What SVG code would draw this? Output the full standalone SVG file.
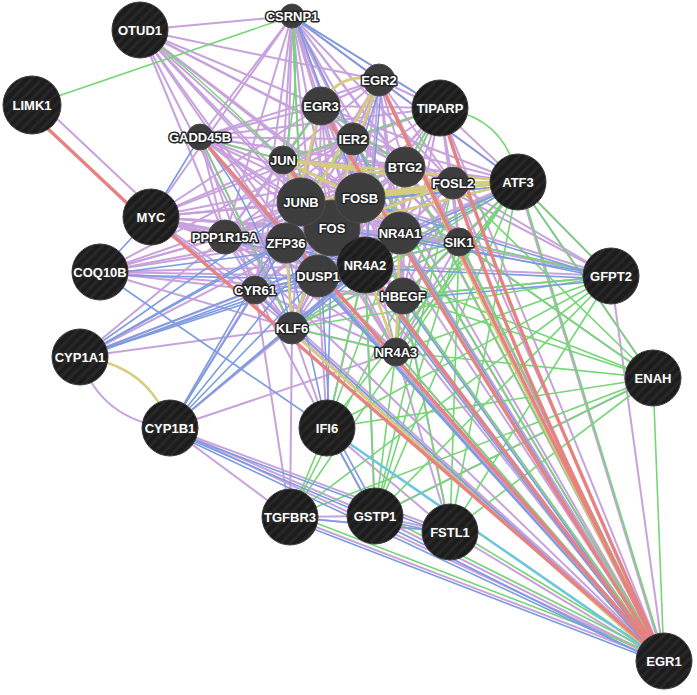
<svg xmlns="http://www.w3.org/2000/svg" width="697" height="695" viewBox="0 0 697 695">
<style>
.e path{fill:none;stroke-linecap:round}
.co path{stroke:#c8a2dc;stroke-width:2}
.gi path{stroke:#74d674;stroke-width:1.6}
.cl path{stroke:#7c9ce0;stroke-width:1.6}
.sd path{stroke:#d6cc7c;stroke-width:2.6}
.pi path{stroke:#e68282;stroke-width:3.4}
.pw path{stroke:#6cc6da;stroke-width:2.6}
.q{fill:url(#st);stroke:#3a3a3a;stroke-width:1}
.r{fill:#3d3d3d;stroke:#4c4c4c;stroke-width:1}
text{font-family:"Liberation Sans",Arial,sans-serif;font-weight:bold;font-size:13px;fill:#fff;stroke:#262626;stroke-width:3;stroke-linejoin:round;paint-order:stroke;text-anchor:middle}
</style>
<defs>
<pattern id="st" width="7" height="7" patternUnits="userSpaceOnUse" patternTransform="rotate(45)"><rect width="7" height="7" fill="#1c1c1c"/><rect width="3" height="7" fill="#272727"/></pattern>
</defs>
<rect width="697" height="695" fill="#fff"/>
<g id="edges" class="e">
<g class="co">
<path d="M140 30L292 16"/><path d="M140 30L321 106"/><path d="M140 30L379 80"/><path d="M140 30L353 139"/><path d="M140 30L283 160"/><path d="M140 30L301 202"/><path d="M140 30L360 198"/><path d="M140 30L332 228"/><path d="M140 30L405 167"/><path d="M140 30L286 243"/><path d="M140 30L318 276"/><path d="M140 30L400 233"/><path d="M140 30L225 237"/><path d="M140 30L292 328"/>
<path d="M292 16L321 106"/><path d="M292 16L379 80"/><path d="M292 16L353 139"/><path d="M292 16L283 160"/><path d="M292 16L301 202"/><path d="M292 16L360 198"/><path d="M292 16L332 228"/><path d="M292 16L405 167"/><path d="M292 16L440 108"/><path d="M292 16L518 182"/><path d="M292 16L453 183"/><path d="M292 16L400 233"/><path d="M292 16L365 265"/><path d="M292 16L200 137"/><path d="M292 16L151 217"/><path d="M292 16L225 237"/><path d="M292 16L286 243"/><path d="M292 16L318 276"/><path d="M292 16L459 242"/><path d="M292 16L403 296"/><path d="M292 16L255 290"/>
<path d="M37 100L156 212"/>
<path d="M200 137L283 160"/><path d="M200 137L301 202"/><path d="M200 137L332 228"/><path d="M200 137L360 198"/><path d="M200 137L353 139"/><path d="M200 137L321 106"/><path d="M200 137L379 80"/><path d="M200 137L405 167"/><path d="M200 137L286 243"/><path d="M200 137L318 276"/><path d="M200 137L400 233"/><path d="M200 137L365 265"/><path d="M200 137L225 237"/><path d="M200 137L518 182"/><path d="M200 137L440 108"/><path d="M200 137L255 290"/><path d="M200 137L292 328"/>
<path d="M151 217L301 202"/><path d="M151 217L332 228"/><path d="M151 217L360 198"/><path d="M151 217L286 243"/><path d="M151 217L225 237"/><path d="M151 217L283 160"/><path d="M151 217L353 139"/><path d="M151 217L321 106"/><path d="M151 217L400 233"/><path d="M151 217L365 265"/><path d="M151 217L318 276"/><path d="M151 217L459 242"/><path d="M151 217L518 182"/><path d="M151 217L405 167"/><path d="M151 217L255 290"/><path d="M151 217L292 328"/><path d="M151 217L403 296"/>
<path d="M100 272L301 202"/><path d="M100 272L332 228"/><path d="M100 272L286 243"/><path d="M100 272L318 276"/><path d="M100 272L365 265"/><path d="M100 272L360 198"/><path d="M100 272L225 237"/><path d="M100 272L255 290"/><path d="M100 272L292 328"/><path d="M100 272L353 139"/><path d="M100 272L403 296"/>
<path d="M80 357L255 290"/><path d="M80 357L225 237"/><path d="M80 357L292 328"/><path d="M80 357L332 228"/><path d="M80 357Q100 420 170 428"/>
<path d="M170 428L292 328"/><path d="M170 428L255 290"/><path d="M170 428L396 352"/><path d="M170 428L375 516"/><path d="M170 428L450 532"/><path d="M170 428L664 661"/><path d="M170 428L290 517"/>
<path d="M327 428L292 328"/><path d="M327 428L255 290"/><path d="M327 428L318 276"/><path d="M327 428L375 516"/><path d="M327 428L450 532"/><path d="M327 428L365 265"/>
<path d="M290 517L664 661"/><path d="M290 517L255 290"/><path d="M290 517L375 516"/><path d="M290 517L450 532"/><path d="M290 517L292 328"/>
<path d="M375 516L450 532"/><path d="M375 516L664 661"/><path d="M375 516L365 265"/>
<path d="M450 532L664 661"/><path d="M450 532L396 352"/><path d="M450 532L403 296"/>
<path d="M664 661L301 202"/><path d="M664 661L332 228"/><path d="M664 661L360 198"/><path d="M664 661L400 233"/><path d="M664 661L365 265"/><path d="M664 661L318 276"/><path d="M664 661L353 139"/><path d="M664 661L379 80"/><path d="M664 661L321 106"/><path d="M664 661L405 167"/><path d="M664 661L518 182"/><path d="M664 661L286 243"/><path d="M664 661L292 328"/><path d="M664 661L255 290"/><path d="M664 661L403 296"/><path d="M664 661L396 352"/><path d="M664 661L459 242"/><path d="M664 661L453 183"/><path d="M664 661L283 160"/><path d="M664 661L225 237"/><path d="M664 661L440 108"/><path d="M664 661L611 276"/><path d="M664 661L292 16"/>
<path d="M653 378L518 182"/><path d="M653 378L459 242"/><path d="M653 378L375 516"/>
<path d="M611 276L518 182"/><path d="M611 276L453 183"/><path d="M611 276L459 242"/><path d="M611 276L400 233"/><path d="M611 276L403 296"/><path d="M611 276L405 167"/><path d="M611 276L365 265"/><path d="M611 276L360 198"/>
<path d="M518 182L440 108"/><path d="M518 182L453 183"/><path d="M518 182L405 167"/><path d="M518 182L400 233"/><path d="M518 182L365 265"/><path d="M518 182L360 198"/><path d="M518 182L332 228"/><path d="M518 182L301 202"/><path d="M518 182L459 242"/><path d="M518 182L403 296"/><path d="M518 182L379 80"/><path d="M518 182L353 139"/><path d="M518 182L396 352"/><path d="M518 182L318 276"/><path d="M518 182L321 106"/>
<path d="M440 108L379 80"/><path d="M440 108L321 106"/><path d="M440 108L353 139"/><path d="M440 108L405 167"/><path d="M440 108L360 198"/><path d="M440 108L332 228"/><path d="M440 108L301 202"/><path d="M440 108L400 233"/><path d="M440 108L365 265"/><path d="M440 108L459 242"/><path d="M440 108L453 183"/><path d="M440 108L403 296"/><path d="M440 108L283 160"/><path d="M440 108L318 276"/>
<path d="M379 80L321 106"/><path d="M379 80L353 139"/><path d="M379 80L283 160"/><path d="M379 80L405 167"/><path d="M379 80L453 183"/><path d="M379 80L301 202"/><path d="M379 80L360 198"/><path d="M379 80L332 228"/><path d="M379 80L400 233"/><path d="M379 80L365 265"/><path d="M379 80L286 243"/><path d="M379 80L459 242"/><path d="M379 80L318 276"/><path d="M379 80L403 296"/>
<path d="M321 106L353 139"/><path d="M321 106L283 160"/><path d="M321 106L405 167"/><path d="M321 106L301 202"/><path d="M321 106L360 198"/><path d="M321 106L332 228"/><path d="M321 106L400 233"/><path d="M321 106L365 265"/><path d="M321 106L286 243"/><path d="M321 106L225 237"/><path d="M321 106L318 276"/><path d="M321 106L403 296"/><path d="M321 106L453 183"/><path d="M321 106L459 242"/>
<path d="M353 139L283 160"/><path d="M353 139L405 167"/><path d="M353 139L453 183"/><path d="M353 139L301 202"/><path d="M353 139L360 198"/><path d="M353 139L332 228"/><path d="M353 139L400 233"/><path d="M353 139L365 265"/><path d="M353 139L286 243"/><path d="M353 139L225 237"/><path d="M353 139L318 276"/><path d="M353 139L403 296"/><path d="M353 139L459 242"/><path d="M353 139L255 290"/><path d="M353 139L292 328"/>
<path d="M283 160L405 167"/><path d="M283 160L453 183"/><path d="M283 160L301 202"/><path d="M283 160L360 198"/><path d="M283 160L332 228"/><path d="M283 160L400 233"/><path d="M283 160L365 265"/><path d="M283 160L286 243"/><path d="M283 160L225 237"/><path d="M283 160L318 276"/><path d="M283 160L403 296"/><path d="M283 160L459 242"/><path d="M283 160L255 290"/><path d="M283 160L292 328"/><path d="M283 160L396 352"/>
<path d="M405 167L453 183"/><path d="M405 167L301 202"/><path d="M405 167L360 198"/><path d="M405 167L332 228"/><path d="M405 167L400 233"/><path d="M405 167L365 265"/><path d="M405 167L286 243"/><path d="M405 167L225 237"/><path d="M405 167L318 276"/><path d="M405 167L403 296"/><path d="M405 167L459 242"/><path d="M405 167L255 290"/><path d="M405 167L292 328"/><path d="M405 167L396 352"/>
<path d="M453 183L301 202"/><path d="M453 183L360 198"/><path d="M453 183L332 228"/><path d="M453 183L400 233"/><path d="M453 183L365 265"/><path d="M453 183L459 242"/><path d="M453 183L403 296"/><path d="M453 183L318 276"/><path d="M453 183L286 243"/><path d="M453 183L396 352"/>
<path d="M301 202L360 198"/><path d="M301 202L332 228"/><path d="M301 202L400 233"/><path d="M301 202L365 265"/><path d="M301 202L286 243"/><path d="M301 202L225 237"/><path d="M301 202L318 276"/><path d="M301 202L403 296"/><path d="M301 202L459 242"/><path d="M301 202L255 290"/><path d="M301 202L292 328"/><path d="M301 202L396 352"/>
<path d="M360 198L332 228"/><path d="M360 198L400 233"/><path d="M360 198L365 265"/><path d="M360 198L286 243"/><path d="M360 198L225 237"/><path d="M360 198L318 276"/><path d="M360 198L403 296"/><path d="M360 198L459 242"/><path d="M360 198L255 290"/><path d="M360 198L292 328"/><path d="M360 198L396 352"/>
<path d="M332 228L400 233"/><path d="M332 228L365 265"/><path d="M332 228L286 243"/><path d="M332 228L225 237"/><path d="M332 228L318 276"/><path d="M332 228L403 296"/><path d="M332 228L459 242"/><path d="M332 228L255 290"/><path d="M332 228L292 328"/><path d="M332 228L396 352"/>
<path d="M400 233L365 265"/><path d="M400 233L286 243"/><path d="M400 233L225 237"/><path d="M400 233L318 276"/><path d="M400 233L403 296"/><path d="M400 233L459 242"/><path d="M400 233L255 290"/><path d="M400 233L292 328"/><path d="M400 233L396 352"/>
<path d="M365 265L286 243"/><path d="M365 265L225 237"/><path d="M365 265L318 276"/><path d="M365 265L403 296"/><path d="M365 265L459 242"/><path d="M365 265L255 290"/><path d="M365 265L292 328"/><path d="M365 265L396 352"/>
<path d="M286 243L225 237"/><path d="M286 243L318 276"/><path d="M286 243L403 296"/><path d="M286 243L459 242"/><path d="M286 243L255 290"/><path d="M286 243L292 328"/><path d="M286 243L396 352"/>
<path d="M225 237L318 276"/><path d="M225 237L403 296"/><path d="M225 237L459 242"/><path d="M225 237L255 290"/><path d="M225 237L292 328"/><path d="M225 237L396 352"/>
<path d="M459 242L318 276"/><path d="M459 242L403 296"/><path d="M459 242L396 352"/><path d="M459 242L292 328"/>
<path d="M318 276L403 296"/><path d="M318 276L255 290"/><path d="M318 276L292 328"/><path d="M318 276L396 352"/>
<path d="M403 296L255 290"/><path d="M403 296L292 328"/><path d="M403 296L396 352"/>
<path d="M255 290L292 328"/><path d="M255 290L396 352"/><path d="M292 328L396 352"/>
</g>
<g class="gi">
<path d="M32 105L292 16"/><path d="M140 30Q215 90 283 160"/><path d="M292 16L301 202"/><path d="M292 16Q302 90 283 160"/><path d="M200 137L283 160"/><path d="M200 137L292 328"/><path d="M283 160L440 108"/><path d="M321 106L405 167"/><path d="M321 106L283 160"/><path d="M353 139L301 202"/>
<path d="M440 108Q507 116 518 182"/><path d="M440 108L405 167"/><path d="M440 108L365 265"/>
<path d="M518 182L653 378"/><path d="M518 182L611 276"/><path d="M518 182L365 265"/><path d="M518 182L403 296"/><path d="M518 182L396 352"/><path d="M518 182L292 328"/><path d="M518 182L375 516"/><path d="M518 182L450 532"/><path d="M518 182L290 517"/><path d="M520 184L666 663"/><path d="M518 182L327 428"/>
<path d="M611 276L459 242"/><path d="M611 276L403 296"/><path d="M611 276L396 352"/><path d="M611 276L292 328"/><path d="M611 276L375 516"/><path d="M611 276L450 532"/><path d="M611 276L290 517"/><path d="M611 276L327 428"/>
<path d="M653 378L459 242"/><path d="M653 378L403 296"/><path d="M653 378L365 265"/><path d="M653 378L453 183"/><path d="M653 378L664 661"/><path d="M653 378L375 516"/><path d="M653 378L450 532"/><path d="M653 378L290 517"/><path d="M653 378L327 428"/><path d="M653 378L396 352"/>
<path d="M375 516L365 265"/><path d="M375 516L403 296"/><path d="M375 516L459 242"/><path d="M375 516L453 183"/><path d="M375 512L664 657"/>
<path d="M290 517L327 428"/><path d="M290 513L664 657"/><path d="M290 517L403 296"/>
<path d="M450 532L403 296"/><path d="M450 532L459 242"/><path d="M450 528L664 657"/>
<path d="M327 428L365 265"/><path d="M327 428L400 233"/>
<path d="M292 328L459 242"/><path d="M292 328L396 352"/><path d="M318 276L459 242"/>
<path d="M664 661L405 298"/><path d="M664 661L398 354"/><path d="M664 661L461 244"/><path d="M664 661L407 169"/><path d="M664 661L355 141"/>
</g>
<g class="cl">
<path d="M80 357L286 243"/><path d="M80 357L318 276"/><path d="M80 357L301 202"/><path d="M80 357L365 265"/><path d="M80 357L400 233"/><path d="M80 359L257 293"/><path d="M80 357L360 198"/>
<path d="M170 428L286 243"/><path d="M170 428L318 276"/><path d="M170 428L332 228"/><path d="M170 428L301 202"/><path d="M170 428L365 265"/><path d="M170 428L400 233"/><path d="M170 431L375 519"/><path d="M170 431L450 535"/><path d="M170 432L664 664"/>
<path d="M100 272L327 428"/><path d="M100 272L151 217"/><path d="M100 275L318 279"/><path d="M100 275L400 236"/>
<path d="M200 137L151 217"/><path d="M200 137Q260 210 292 328"/><path d="M203 139L321 278"/>
<path d="M327 428L375 516"/><path d="M331 426L379 514"/><path d="M330 428L321 276"/><path d="M327 428L286 243"/><path d="M327 428L332 228"/>
<path d="M290 517L450 532"/><path d="M290 520L664 664"/><path d="M375 520L664 665"/><path d="M377 519L452 535"/>
<path d="M611 279L400 236"/><path d="M611 279L360 201"/><path d="M611 276L332 228"/><path d="M611 279L365 268"/><path d="M611 280L403 299"/>
<path d="M518 185L400 236"/><path d="M518 185L360 201"/><path d="M518 182L332 228"/><path d="M518 185L301 205"/><path d="M518 185L365 268"/>
<path d="M292 16L440 108"/><path d="M292 16L518 182"/><path d="M295 18L400 233"/><path d="M295 18L360 198"/>
<path d="M382 80L365 265"/><path d="M382 82L318 276"/>
<path d="M365 265L255 290"/><path d="M368 268L292 328"/><path d="M365 268L318 279"/><path d="M365 268L286 246"/><path d="M365 268L225 240"/>
<path d="M664 664L365 268"/><path d="M664 664L403 299"/><path d="M664 664L400 236"/><path d="M664 664L318 279"/><path d="M664 664L332 231"/><path d="M664 664L255 293"/><path d="M664 664L292 331"/><path d="M664 664L286 246"/>
</g>
<g class="sd">
<path d="M321 106Q338 70 379 80"/><path d="M379 80Q490 330 664 661"/><path d="M321 106Q470 360 664 661"/><path d="M80 357Q150 365 170 428"/><path d="M286 243L292 328"/><path d="M292 332L664 665"/>
<path d="M283 160L301 202"/><path d="M283 160L332 228"/><path d="M283 160L360 198"/><path d="M283 160L453 183"/><path d="M283 160L518 182"/><path d="M301 202L360 198"/><path d="M301 202L332 228"/><path d="M360 198L332 228"/><path d="M360 198L453 183"/><path d="M360 198L518 182"/><path d="M332 228L453 183"/><path d="M332 228L518 182"/><path d="M301 202L518 182"/><path d="M453 183L518 182"/><path d="M301 202L453 183"/>
<path d="M400 233L365 265"/><path d="M400 233L396 352"/><path d="M365 265L396 352"/>
<path d="M379 80L286 243"/><path d="M321 106L286 243"/><path d="M379 80L292 328"/>
</g>
<g class="pw">
<path d="M327 428L664 661"/>
</g>
<g class="pi">
<path d="M28 110L147 222"/><path d="M151 217L664 661"/><path d="M200 137L664 661"/><path d="M379 80Q480 300 664 661"/><path d="M321 106Q450 330 664 661"/><path d="M453 183Q520 380 664 661"/><path d="M283 160L664 661"/><path d="M440 108Q500 300 664 661"/>
</g>
</g>
<g id="nodes">
<g id="n-OTUD1"><circle class="q" cx="140" cy="30" r="28"/><text x="140" y="35">OTUD1</text></g>
<g id="n-LIMK1"><circle class="q" cx="32" cy="105" r="29"/><text x="32" y="110">LIMK1</text></g>
<g id="n-CSRNP1"><circle class="r" cx="292" cy="16" r="12"/><text x="292" y="21">CSRNP1</text></g>
<g id="n-EGR2"><circle class="r" cx="379" cy="80" r="16"/><text x="379" y="85">EGR2</text></g>
<g id="n-EGR3"><circle class="r" cx="321" cy="106" r="19"/><text x="321" y="111">EGR3</text></g>
<g id="n-TIPARP"><circle class="q" cx="440" cy="108" r="28"/><text x="440" y="113">TIPARP</text></g>
<g id="n-GADD45B"><circle class="r" cx="200" cy="137" r="13"/><text x="200" y="142">GADD45B</text></g>
<g id="n-IER2"><circle class="r" cx="353" cy="139" r="16"/><text x="353" y="144">IER2</text></g>
<g id="n-JUN"><circle class="r" cx="283" cy="160" r="14"/><text x="283" y="165">JUN</text></g>
<g id="n-BTG2"><circle class="r" cx="405" cy="167" r="20"/><text x="405" y="172">BTG2</text></g>
<g id="n-FOSL2"><circle class="r" cx="453" cy="183" r="16"/><text x="453" y="188">FOSL2</text></g>
<g id="n-ATF3"><circle class="q" cx="518" cy="182" r="28"/><text x="518" y="187">ATF3</text></g>
<g id="n-MYC"><circle class="q" cx="151" cy="217" r="28"/><text x="151" y="222">MYC</text></g>
<g id="n-FOS"><circle class="r" cx="332" cy="228" r="28"/><text x="332" y="233">FOS</text></g>
<g id="n-JUNB"><circle class="r" cx="301" cy="202" r="24"/><text x="301" y="207">JUNB</text></g>
<g id="n-FOSB"><circle class="r" cx="360" cy="198" r="25"/><text x="360" y="203">FOSB</text></g>
<g id="n-NR4A1"><circle class="r" cx="400" cy="233" r="21"/><text x="400" y="238">NR4A1</text></g>
<g id="n-NR4A2"><circle class="q" cx="365" cy="265" r="28"/><text x="365" y="270">NR4A2</text></g>
<g id="n-ZFP36"><circle class="r" cx="286" cy="243" r="20"/><text x="286" y="248">ZFP36</text></g>
<g id="n-DUSP1"><circle class="r" cx="318" cy="276" r="21"/><text x="318" y="281">DUSP1</text></g>
<g id="n-PPP1R15A"><circle class="r" cx="225" cy="237" r="17"/><text x="225" y="242">PPP1R15A</text></g>
<g id="n-SIK1"><circle class="r" cx="459" cy="242" r="14"/><text x="459" y="247">SIK1</text></g>
<g id="n-HBEGF"><circle class="r" cx="403" cy="296" r="18"/><text x="403" y="301">HBEGF</text></g>
<g id="n-CYR61"><circle class="r" cx="255" cy="290" r="14"/><text x="255" y="295">CYR61</text></g>
<g id="n-KLF6"><circle class="r" cx="292" cy="328" r="16"/><text x="292" y="333">KLF6</text></g>
<g id="n-NR4A3"><circle class="r" cx="396" cy="352" r="14"/><text x="396" y="357">NR4A3</text></g>
<g id="n-COQ10B"><circle class="q" cx="100" cy="272" r="28"/><text x="100" y="277">COQ10B</text></g>
<g id="n-GFPT2"><circle class="q" cx="611" cy="276" r="28"/><text x="611" y="281">GFPT2</text></g>
<g id="n-CYP1A1"><circle class="q" cx="80" cy="357" r="28"/><text x="80" y="362">CYP1A1</text></g>
<g id="n-ENAH"><circle class="q" cx="653" cy="378" r="28"/><text x="653" y="383">ENAH</text></g>
<g id="n-CYP1B1"><circle class="q" cx="170" cy="428" r="28"/><text x="170" y="433">CYP1B1</text></g>
<g id="n-IFI6"><circle class="q" cx="327" cy="428" r="28"/><text x="327" y="433">IFI6</text></g>
<g id="n-TGFBR3"><circle class="q" cx="290" cy="517" r="28"/><text x="290" y="522">TGFBR3</text></g>
<g id="n-GSTP1"><circle class="q" cx="375" cy="516" r="28"/><text x="375" y="521">GSTP1</text></g>
<g id="n-FSTL1"><circle class="q" cx="450" cy="532" r="28"/><text x="450" y="537">FSTL1</text></g>
<g id="n-EGR1"><circle class="q" cx="664" cy="661" r="28"/><text x="664" y="666">EGR1</text></g>
</g>
</svg>
